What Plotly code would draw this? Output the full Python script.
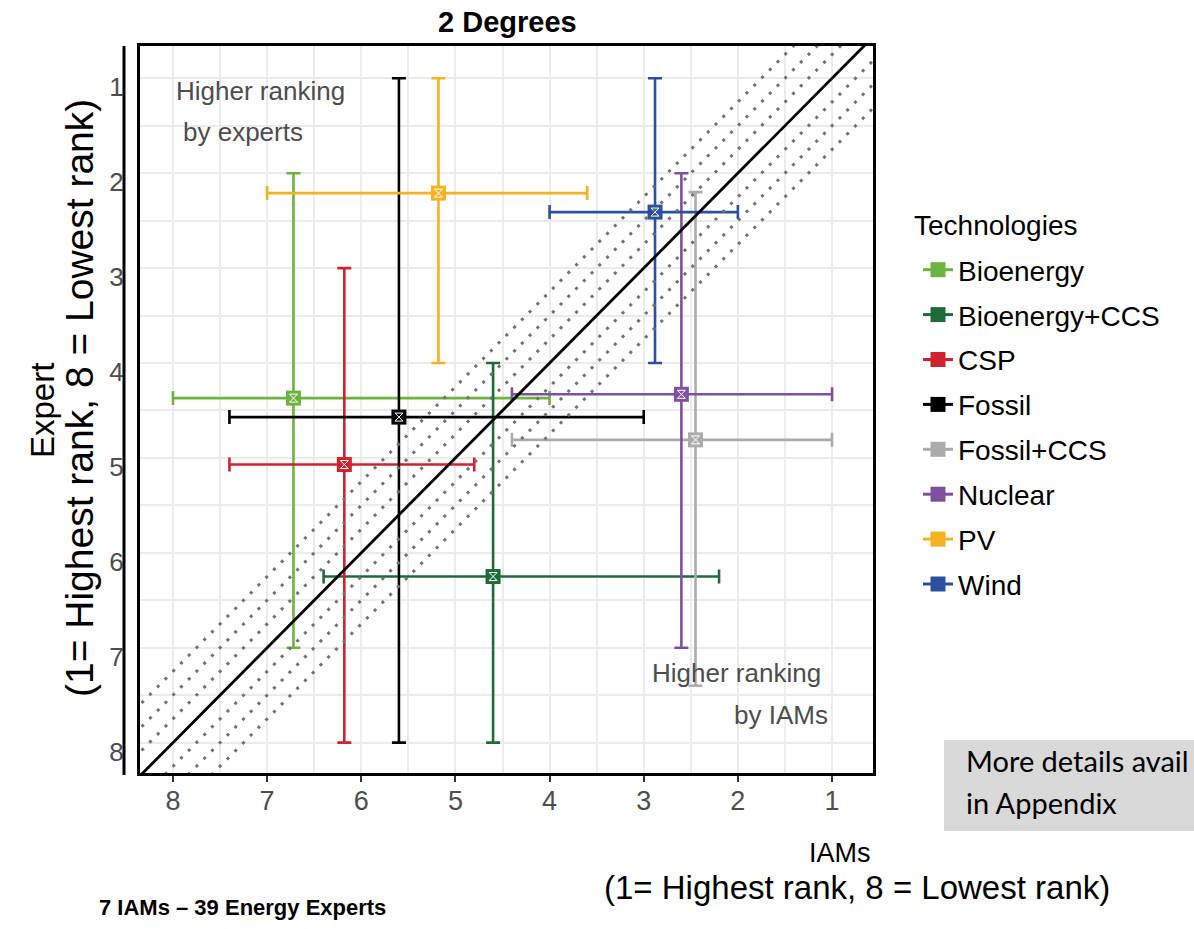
import plotly.graph_objects as go

# ---------------- data ----------------
techs = ["Bioenergy", "Bioenergy+CCS", "CSP", "Fossil", "Fossil+CCS", "Nuclear", "PV", "Wind"]
colors = ["#6cb33f", "#1f6b37", "#d0212e", "#000000", "#ababab", "#7f50a0", "#f4b120", "#2e4e9e"]

iam_mid = [6.72, 4.60, 6.18, 5.60, 2.45, 2.60, 5.18, 2.88]
iam_max = [8.0, 6.4, 7.4, 7.4, 4.4, 4.4, 7.0, 4.0]
iam_min = [4.0, 2.2, 4.8, 3.0, 1.0, 1.0, 3.6, 2.0]

exp_mid = [4.37, 6.25, 5.07, 4.57, 4.81, 4.33, 2.21, 2.41]
exp_min = [2.0, 4.0, 3.0, 1.0, 2.2, 2.0, 1.0, 1.0]
exp_max = [7.0, 8.0, 8.0, 8.0, 7.4, 7.0, 4.0, 4.0]

tick_vals = [1, 2, 3, 4, 5, 6, 7, 8]
tick_text = ["1", "2", "3", "4", "5", "6", "7", "8"]

diag_offsets = [-0.75, -0.5, -0.25, 0.25, 0.5, 0.75]
diag_span = [0, 9]

FONT = "Arial"
TXT_GRAY = "#4d4d4d"

fig = go.Figure()

for i, t in enumerate(techs):
    fig.add_trace(go.Scatter(
        x=[iam_mid[i]], y=[exp_mid[i]], name=t, legendgroup=t,
        mode="lines+markers",
        line=dict(color=colors[i], width=3),
        marker=dict(symbol="square", size=15, color=colors[i]),
        error_x=dict(type="data", symmetric=False,
                     array=[iam_max[i] - iam_mid[i]],
                     arrayminus=[iam_mid[i] - iam_min[i]],
                     color=colors[i], thickness=2.6, width=7),
        error_y=dict(type="data", symmetric=False,
                     array=[exp_max[i] - exp_mid[i]],
                     arrayminus=[exp_mid[i] - exp_min[i]],
                     color=colors[i], thickness=2.6, width=7),
    ))

# small white hourglass accents inside the square markers
fig.add_trace(go.Scatter(
    x=iam_mid, y=exp_mid, mode="markers",
    marker=dict(symbol="hourglass-open", size=8, color="white", line=dict(width=1, color="white")),
    showlegend=False, hoverinfo="skip"))

# diagonal reference lines
for c in diag_offsets:
    fig.add_trace(go.Scatter(
        x=diag_span, y=[v + c for v in diag_span], mode="lines",
        line=dict(color="#727272", width=3, dash="3px,8px"),
        showlegend=False, hoverinfo="skip"))
fig.add_trace(go.Scatter(
    x=diag_span, y=diag_span, mode="lines",
    line=dict(color="black", width=2.8),
    showlegend=False, hoverinfo="skip"))

L, R, T, B = 140, 321, 46, 156
W, H = 1194, 929
PW, PH = W - L - R, H - T - B


def px(xp):
    return (xp - L) / PW


def py(yp):
    return (H - B - yp) / PH


annotations = [
    dict(text="<b>2 Degrees</b>", x=px(507), y=py(22), font=dict(size=29, color="black")),
    dict(text="Higher ranking", x=px(174), y=py(91), xanchor="left",
         font=dict(size=26, color=TXT_GRAY)),
    dict(text="by experts", x=px(181), y=py(132), xanchor="left",
         font=dict(size=26, color=TXT_GRAY)),
    dict(text="Higher ranking", x=px(823), y=py(673), xanchor="right",
         font=dict(size=26, color=TXT_GRAY)),
    dict(text="by IAMs", x=px(830), y=py(715), xanchor="right",
         font=dict(size=26, color=TXT_GRAY)),
    dict(text="Expert", x=px(42), y=py(410),
         textangle=-90, font=dict(size=33, color="black")),
    dict(text="(1= Highest rank, 8 = Lowest rank)", x=px(79), y=py(398),
         textangle=-90, font=dict(size=39, color="black")),
    dict(text="IAMs", x=px(840), y=py(853), font=dict(size=27, color="black")),
    dict(text="(1= Highest rank, 8 = Lowest rank)", x=px(857), y=py(887),
         font=dict(size=33, color="black")),
    dict(text="<b>7 IAMs – 39 Energy Experts</b>", x=px(97), y=py(907), xanchor="left",
         font=dict(size=22, color="black")),
    dict(text="More details avail", x=px(964), y=py(760), xanchor="left",
         font=dict(size=29, color="black", family="Lato, Open Sans, sans-serif")),
    dict(text="in Appendix", x=px(964), y=py(802), xanchor="left",
         font=dict(size=29, color="black", family="Lato, Open Sans, sans-serif")),
    dict(text="Technologies", x=px(912), y=py(226), xanchor="left",
         font=dict(size=28, color="black")),
]
for a in annotations:
    a.update(xref="paper", yref="paper", showarrow=False)
    a.setdefault("xanchor", "center")
    a.setdefault("yanchor", "middle")

shapes = [
    dict(type="rect", xref="paper", yref="paper", x0=px(944), x1=px(1200),
         y0=py(831), y1=py(740), fillcolor="#d9d9d9", line=dict(width=0), layer="below"),
    dict(type="line", xref="paper", yref="paper", x0=px(124), x1=px(124),
         y0=py(46), y1=py(775), line=dict(color="black", width=3)),
]

fig.update_layout(
    width=W, height=H,
    margin=dict(l=L, r=R, t=T, b=B),
    paper_bgcolor="white", plot_bgcolor="white",
    font=dict(family=FONT, color="black"),
    showlegend=True,
    legend=dict(
        font=dict(size=28, color="black"),
        x=px(918), y=py(245), xanchor="left", yanchor="top",
        tracegroupgap=5.5, bgcolor="rgba(0,0,0,0)", itemwidth=30,
    ),
    annotations=annotations,
    shapes=shapes,
)

fig.update_xaxes(
    range=[8.35, 0.565], tickvals=tick_vals, ticktext=tick_text,
    showgrid=True, gridcolor="#ebebeb", gridwidth=2,
    minor=dict(dtick=0.5, tick0=0.5, showgrid=True, gridcolor="#ebebeb", gridwidth=2),
    showline=True, mirror=True, linecolor="black", linewidth=3,
    ticks="outside", ticklen=6, tickwidth=2, tickcolor="#333333",
    tickfont=dict(size=27, color=TXT_GRAY), zeroline=False,
    ticklabelstandoff=-4,
)
fig.update_yaxes(
    range=[8.32, 0.66], tickvals=tick_vals, ticktext=tick_text,
    showgrid=True, gridcolor="#ebebeb", gridwidth=2,
    minor=dict(dtick=0.5, tick0=0.5, showgrid=True, gridcolor="#ebebeb", gridwidth=2),
    showline=True, mirror=True, linecolor="black", linewidth=3,
    ticks="", tickfont=dict(size=26, color=TXT_GRAY), zeroline=False,
    ticklabelstandoff=8, ticklabelshift=-9,
)

fig.write_html("out.html")
